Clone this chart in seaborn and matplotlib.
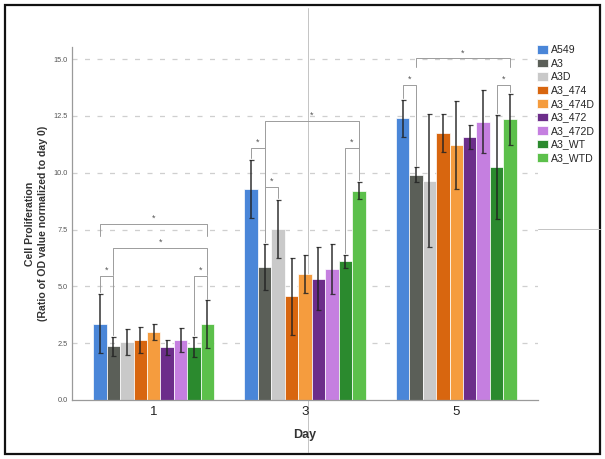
import matplotlib
matplotlib.use("Agg")
import matplotlib.pyplot as plt
from matplotlib.lines import Line2D
from matplotlib.patches import Rectangle
import seaborn as sns
import pandas as pd

# ---------------- data ----------------
days = ["1", "3", "5"]
groups = ["A549", "A3", "A3D", "A3_474", "A3_474D", "A3_472", "A3_472D", "A3_WT", "A3_WTD"]
colors = ["#4a86d8", "#5b5f58", "#c9c9c9", "#d8660f", "#f59c3e", "#6c2d8a", "#c57fe0", "#2b8a2e", "#5cc04b"]

mean_day1 = [3.36, 2.37, 2.55, 2.63, 3.00, 2.31, 2.63, 2.34, 3.33]
mean_day3 = [9.28, 5.85, 7.53, 4.56, 5.53, 5.34, 5.77, 6.10, 9.21]
mean_day5 = [12.40, 9.91, 9.65, 11.73, 11.23, 11.58, 12.25, 10.26, 12.35]

err_day1 = [1.30, 0.42, 0.58, 0.57, 0.36, 0.32, 0.52, 0.45, 1.05]
err_day3 = [1.28, 1.02, 1.27, 1.70, 0.83, 1.40, 1.10, 0.30, 0.37]
err_day5 = [0.82, 0.32, 2.92, 0.84, 1.93, 0.52, 1.40, 2.30, 1.13]

# significance brackets: (day, group a, group b, bracket height, leg bottom or None = down to error bar)
brackets = [
    ("1", "A549", "A3_WTD", 7.75, 7.2),
    ("1", "A3", "A3_WTD", 6.70, 5.5),
    ("1", "A549", "A3", 5.45, None),
    ("1", "A3_WT", "A3_WTD", 5.45, None),
    ("3", "A3", "A3_WTD", 12.29, 11.1),
    ("3", "A549", "A3", 11.09, None),
    ("3", "A3", "A3D", 9.37, None),
    ("3", "A3_WT", "A3_WTD", 11.09, None),
    ("5", "A3", "A3_WTD", 15.03, 14.65),
    ("5", "A549", "A3", 13.86, None),
    ("5", "A3_WT", "A3_WTD", 13.86, None),
]

means = {"1": mean_day1, "3": mean_day3, "5": mean_day5}
errs = {"1": err_day1, "3": err_day3, "5": err_day5}

rows = []
for d in days:
    for g, m, e in zip(groups, means[d], errs[d]):
        rows.append({"Day": d, "Group": g, "Value": m, "Err": e})
df = pd.DataFrame(rows)

# ---------------- figure ----------------
sns.set_theme(style="white")
plt.rcParams["font.family"] = ["Liberation Sans", "DejaVu Sans"]

fig = plt.figure(figsize=(6.05, 4.59), dpi=100)
ax = fig.add_axes([72 / 605, 1 - 400 / 459, (538 - 72) / 605, (400 - 47) / 459])
ax.patch.set_visible(False)

sns.barplot(data=df, x="Day", y="Value", hue="Group", order=days, hue_order=groups,
            palette=colors, errorbar=None, width=0.8, edgecolor="white", linewidth=0.5,
            saturation=1, ax=ax)

# bar centres from the drawn bars
centres = {}
for gi, cont in enumerate(ax.containers):
    for p in cont.patches:
        xc = p.get_x() + p.get_width() / 2
        di = int(round(xc))
        centres[(days[di], groups[gi])] = xc

xs, ys, es = [], [], []
for _, r in df.iterrows():
    xs.append(centres[(r.Day, r.Group)])
    ys.append(r.Value)
    es.append(r.Err)
ax.errorbar(xs, ys, yerr=es, fmt="none", ecolor="#222222", elinewidth=1.2,
            capsize=1.8, capthick=0.9, alpha=0.85, zorder=5)

lookup = {(r.Day, r.Group): (r.Value, r.Err) for _, r in df.iterrows()}
for d, a, b, h, leg in brackets:
    xa, xb = centres[(d, a)], centres[(d, b)]
    if leg is None:
        la = lookup[(d, a)][0] + lookup[(d, a)][1] + 0.08
        lb = lookup[(d, b)][0] + lookup[(d, b)][1] + 0.08
    else:
        la = lb = leg
    ax.plot([xa, xa, xb, xb], [la, h, h, lb], color="#9c9c9c", lw=0.7, zorder=6,
            clip_on=False)
    ax.text((xa + xb) / 2, h + 0.24, "*", ha="center", va="center", fontsize=6.5,
            color="#555555", clip_on=False)

ax.set_xlim(-0.54, 2.54)
ax.set_ylim(0, 15.53)
ax.set_yticks([0, 2.5, 5.0, 7.5, 10.0, 12.5, 15.0])
ax.set_yticklabels(["0.0", "2.5", "5.0", "7.5", "10.0", "12.5", "15.0"], fontsize=5.3, color="#555555")
ax.tick_params(axis="x", labelsize=9.5, length=0, pad=4, colors="#222222")
ax.tick_params(axis="y", length=0, pad=3)
for y in [2.5, 5.0, 7.5, 10.0, 12.5, 15.0]:
    ax.axhline(y, color="#cfcfcf", lw=0.9, ls=(0, (4, 6)), zorder=0)
for s in ["top", "right"]:
    ax.spines[s].set_visible(False)
for s in ["left", "bottom"]:
    ax.spines[s].set_color("#9a9a9a")
    ax.spines[s].set_linewidth(0.9)

ax.set_xlabel("Day", fontsize=9, fontweight="bold", color="#333333", labelpad=8)
ax.set_ylabel("Cell Proliferation\n(Ratio of OD value normalized to day 0)", fontsize=7.6,
              fontweight="bold", color="#333333", labelpad=4, linespacing=1.35)

handles, labels = ax.get_legend_handles_labels()
ax.legend_.remove()
fig.legend(handles, labels, loc="upper left", bbox_to_anchor=(537 / 605, 1 - 45 / 459),
           frameon=False, fontsize=7.6, handlelength=1.0, handleheight=0.9,
           handletextpad=0.3, labelspacing=0.33, borderpad=0, borderaxespad=0)

# thin guide lines and outer frame
fig.add_artist(Line2D([308 / 605, 308 / 605], [1 - 8 / 459, 1 - 452 / 459],
                      transform=fig.transFigure, color="#c4c4c4", lw=0.7, zorder=0))
fig.add_artist(Line2D([538 / 605, 600 / 605], [1 - 229 / 459, 1 - 229 / 459],
                      transform=fig.transFigure, color="#c4c4c4", lw=0.7))
fig.add_artist(Rectangle((5 / 605, 5 / 459), 595 / 605, 449 / 459, transform=fig.transFigure,
                         fill=False, edgecolor="#111111", lw=1.6))

fig.savefig("out.png", dpi=100)
